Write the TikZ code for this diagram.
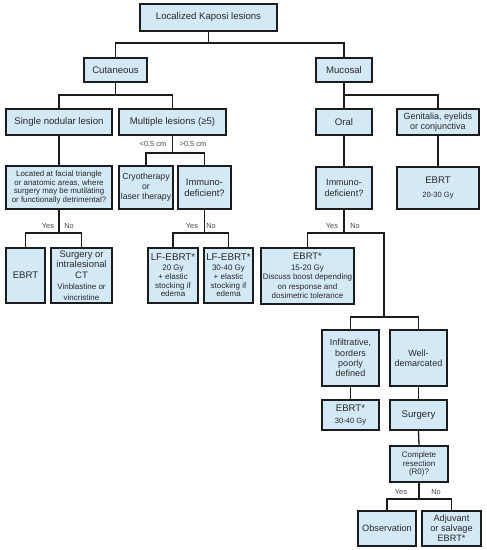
\documentclass[tikz,border=0pt]{standalone}
\usepackage{fontspec}
\setmainfont{Liberation Sans}
\definecolor{boxfill}{RGB}{212,233,246}
\definecolor{boxline}{RGB}{28,28,28}
\definecolor{txt}{RGB}{40,40,40}
\newcommand{\sm}{\fontsize{8}{8.6}\selectfont}
\newcommand{\md}{\fontsize{9}{10.2}\selectfont}
\tikzset{
  bx/.style={draw=boxline, line width=1.7pt, fill=boxfill, align=center, inner sep=1pt,
    text=txt, font=\fontsize{9.6}{11}\selectfont},
  wh/.style 2 args={minimum width=#1pt, minimum height=#2pt},
  cn/.style={draw=boxline, line width=1.3pt},
  lbl/.style={font=\fontsize{7.4}{8}\selectfont, text=txt!85, inner sep=0pt},
}
\begin{document}
\begin{tikzpicture}[x=1pt,y=-1pt]
\fill[white] (0,0) rectangle (487,550);
\useasboundingbox (0,0) rectangle (487,550);

% boxes
\node[bx, wh={137.5}{27.5}] (top) at (208.5,17.5) {Localized Kaposi lesions};
\node[bx, wh={63.5}{24.5}] (cut) at (115.5,70) {Cutaneous};
\node[bx, wh={56.5}{24.5}] (muc) at (344,70) {Mucosal};
\node[bx, wh={105.5}{26.5}] (single) at (59,122) {Single nodular lesion};
\node[bx, wh={107.5}{26.5}] (multi) at (172.5,122) {Multiple lesions (≥5)};
\node[bx, wh={56.5}{26.5}] (oral) at (344,122) {Oral};
\node[bx, wh={82.5}{26.5}, font=\md] (genit) at (438,122) {Genitalia, eyelids\\or conjunctiva};
\node[bx, wh={106.5}{43.5}, font=\fontsize{7.9}{8.4}\selectfont] (located) at (59,187.5) {Located at facial triangle\\or anatomic areas, where\\surgery may be mutilating\\or functionally detrimental?};
\node[bx, wh={54.5}{43.5}, font=\fontsize{8.7}{10}\selectfont] (cryo) at (146,187.5) {Cryotherapy\\or\\laser therapy};
\node[bx, wh={53.5}{43.5}, font=\fontsize{9.4}{11}\selectfont] (imml) at (204.5,187.5) {Immuno-\\deficient?};
\node[bx, wh={56.5}{42.5}, font=\md] (immr) at (344,188) {Immuno-\\deficient?};
\node[bx, wh={82.5}{42.5}] (ebrtg) at (438,188) {EBRT\\[3pt]{\fontsize{7.6}{8.5}\selectfont 20-30 Gy}};
\node[bx, wh={39.5}{55.5}] (ebrta) at (25.5,275.5) {EBRT};
\node[bx, wh={61.5}{55.5}, font=\fontsize{9.4}{10.4}\selectfont] (surgct) at (81.5,275.5) {Surgery or\\intralesional\\CT\\[1pt]{\sm Vinblastine or}\\{\sm vincristine}};
\node[bx, wh={50.5}{55.5}, font=\fontsize{9.8}{8.8}\selectfont] (lfa) at (173,275.5) {LF-EBRT*\\[1pt]{\sm 20 Gy}\\{\sm + elastic}\\{\sm stocking if}\\{\sm edema}};
\node[bx, wh={49.5}{55.5}, font=\fontsize{9.8}{8.8}\selectfont] (lfb) at (228.5,275.5) {LF-EBRT*\\[1pt]{\sm 30-40 Gy}\\{\sm + elastic}\\{\sm stocking if}\\{\sm edema}};
\node[bx, wh={93.5}{56.5}, font=\fontsize{9.4}{9.4}\selectfont] (ebrtm) at (307.5,276) {EBRT*\\[1pt]{\sm 15-20 Gy}\\{\sm Discuss boost depending}\\{\sm on response and}\\{\sm dosimetric tolerance}};
\node[bx, wh={57.5}{56.5}, font=\md] (infil) at (350.5,358) {Infiltrative,\\borders\\poorly\\defined};
\node[bx, wh={57.5}{56.5}, font=\md] (well) at (418.5,358) {Well-\\demarcated};
\node[bx, wh={57.5}{30.5}] (ebrtp) at (350.5,415) {EBRT*\\[1pt]{\fontsize{7.6}{9}\selectfont 30-40 Gy}};
\node[bx, wh={57.5}{30.5}] (surg) at (418.5,415) {Surgery};
\node[bx, wh={58.5}{36.5}, font=\sm] (compl) at (419,464) {Complete\\resection\\(R0)?};
\node[bx, wh={58.5}{35.5}, font=\fontsize{9.2}{10.6}\selectfont] (obs) at (387,528.5) {Observation};
\node[bx, wh={59.5}{35.5}, font=\fontsize{9.2}{10}\selectfont] (adj) at (451.5,528.5) {Adjuvant\\or salvage\\EBRT*};

% connectors
\coordinate (j1) at (384,317);
\draw[cn] (top.south) -- (top.south |- 0,43) -| (cut.north);
\draw[cn] (top.south |- 0,43) -| (muc.north);
\draw[cn] (cut.south) -- (cut.south |- 0,95) -| (single.north);
\draw[cn] (cut.south |- 0,95) -| (multi.north);
\draw[cn] (muc.south) -- (muc.south |- 0,95) -| (oral.north);
\draw[cn] (muc.south |- 0,95) -| (genit.north);
\draw[cn] (single.south) -- (single.south |- located.north);
\draw[cn] (multi.south) -- (multi.south |- 0,153) -| (cryo.north);
\draw[cn] (multi.south |- 0,153) -| (imml.north);
\draw[cn] (oral.south) -- (immr.north);
\draw[cn] (genit.south) -- (ebrtg.north);
\draw[cn] (located.south) -- (located.south |- 0,233) -| (ebrta.north);
\draw[cn] (located.south |- 0,233) -| (surgct.north);
\draw[cn] (imml.south) -- (imml.south |- 0,233) -| (lfa.north);
\draw[cn] (imml.south |- 0,233) -| (lfb.north);
\draw[cn] (immr.south) -- (immr.south |- 0,233) -| (ebrtm.north);
\draw[cn] (immr.south |- 0,233) -| (j1);
\draw[cn] (j1) -| (infil.north);
\draw[cn] (j1) -| (well.north);
\draw[cn] (infil.south) -- (ebrtp.north);
\draw[cn] (well.south) -- (surg.north);
\draw[cn] (surg.south) -- (compl.north);
\draw[cn] (compl.south) -- (compl.south |- 0,499) -| (obs.north);
\draw[cn] (compl.south |- 0,499) -| (adj.north);

% labels
\node[lbl] (l1) at (153,144) {<0.5 cm};
\node[lbl] (l2) at (193,144) {>0.5 cm};
\node[lbl] (l3) at (48,226) {Yes};
\node[lbl] (l4) at (69,226) {No};
\node[lbl] (l5) at (192,226) {Yes};
\node[lbl] (l6) at (211,226) {No};
\node[lbl] (l7) at (332,226) {Yes};
\node[lbl] (l8) at (355,226) {No};
\node[lbl] (l9) at (401,492) {Yes};
\node[lbl] (l10) at (436,492) {No};
\end{tikzpicture}
\end{document}
